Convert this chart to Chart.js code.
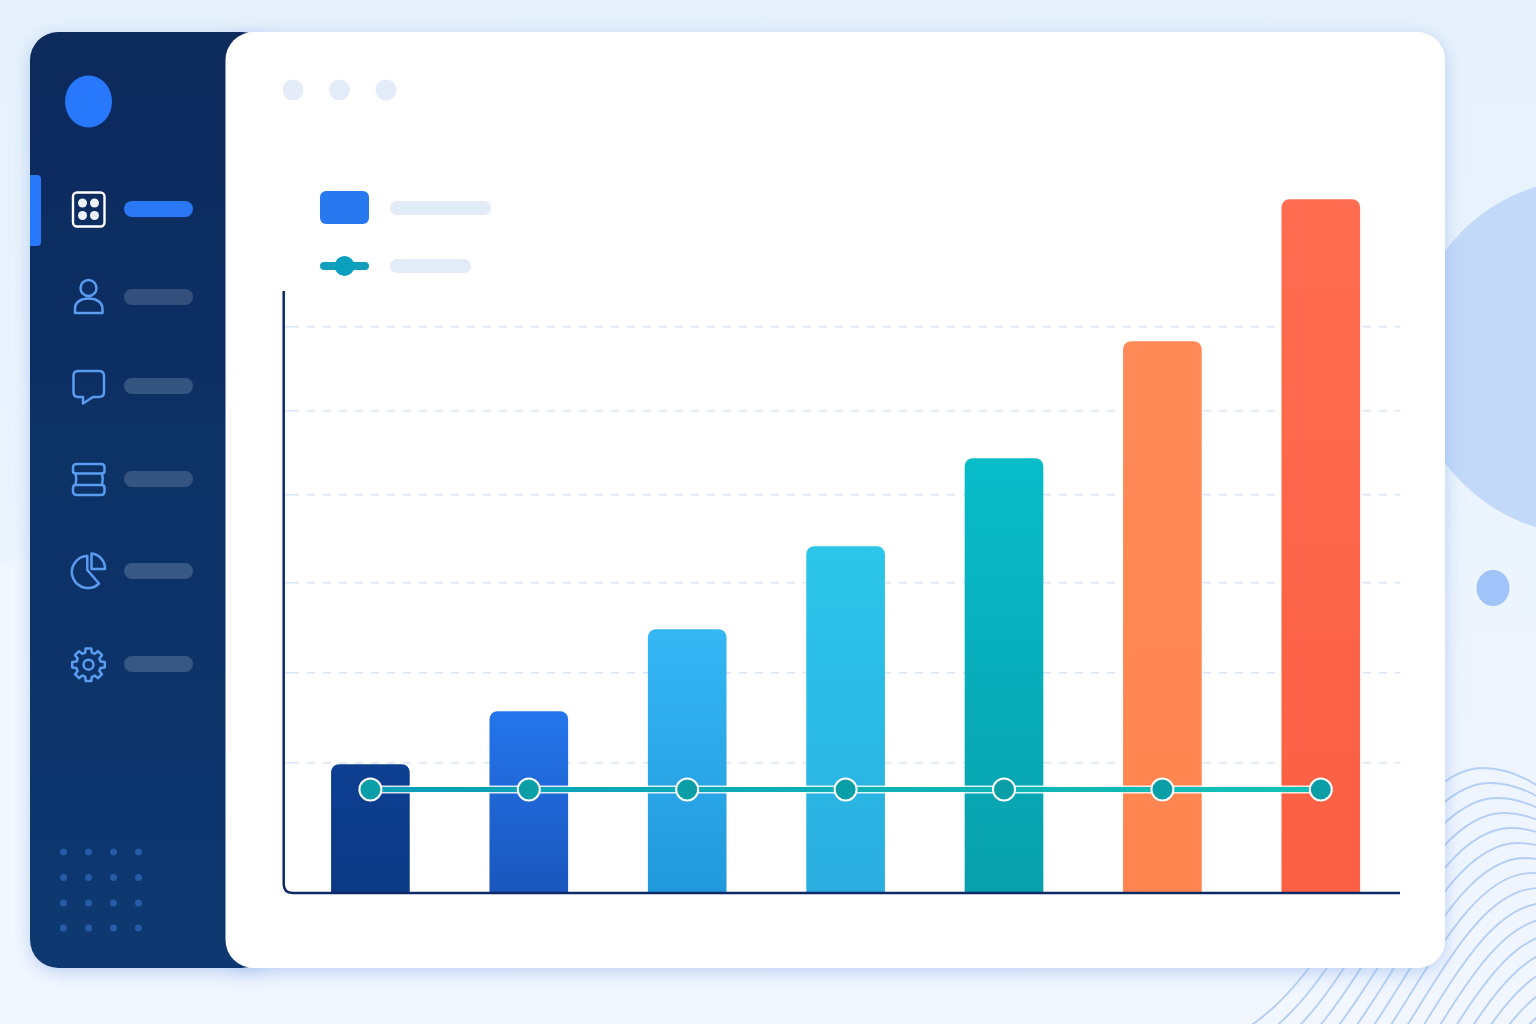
<!DOCTYPE html>
<html>
<head>
<meta charset="utf-8">
<title>Dashboard chart</title>
<script src="https://cdn.jsdelivr.net/npm/chart.js@4/dist/chart.umd.js"></script>
<style>
  html, body { margin: 0; padding: 0; background: #edf4fe; }
  #page { position: relative; width: 1536px; height: 1024px; overflow: hidden; }
  #fondo { position: absolute; left: 0; top: 0; }
  #miCanvas { position: absolute; left: 240px; top: 180px; }
</style>
</head>
<body>
<div id="page">
  <svg id="fondo" width="1536" height="1024" viewBox="0 0 1536 1024" xmlns="http://www.w3.org/2000/svg">
    <defs>
      <linearGradient id="bg" x1="0" y1="0" x2="0" y2="1">
        <stop offset="0" stop-color="#e6f1fc"/>
        <stop offset="0.55" stop-color="#ecf4fe"/>
        <stop offset="1" stop-color="#f1f6ff"/>
      </linearGradient>
      <linearGradient id="side" x1="0" y1="0" x2="0" y2="1">
        <stop offset="0" stop-color="#0b2a5c"/>
        <stop offset="1" stop-color="#0a3871"/>
      </linearGradient>
      <filter id="sombra" x="-10%" y="-10%" width="120%" height="120%">
        <feDropShadow dx="0" dy="4" stdDeviation="9" flood-color="#86abe6" flood-opacity="0.5"/>
      </filter>
    </defs>

    <rect width="1536" height="1024" fill="url(#bg)"/>
    <path d="M0 564 Q22 554 60 566 L60 1024 L0 1024 Z" fill="#f2f7ff"/>

    <!-- decoracion de la derecha -->
    <circle cx="1588" cy="357" r="178" fill="#c2d9f9"/>
    <ellipse cx="1493" cy="588" rx="16.5" ry="18" fill="#a0c4fa"/>
    <g id="ondas" fill="none" stroke="#b4cff5" stroke-width="1.9"></g>

    <!-- sombra de la tarjeta, debajo de la barra lateral -->
    <rect x="225.5" y="32" width="1219.5" height="936" rx="28" fill="#ffffff" filter="url(#sombra)"/>

    <!-- barra lateral -->
    <rect x="30" y="32" width="240" height="936" rx="28" fill="url(#side)" filter="url(#sombra)"/>
    <ellipse cx="88.5" cy="101.5" rx="23.5" ry="26" fill="#2878fb"/>
    <path d="M30 175 H37 Q41 175 41 179 V242 Q41 246 37 246 H30 Z" fill="#2878fb"/>

    <rect x="124" y="201" width="69" height="16" rx="8" fill="#2a78f6"/>
    <rect x="124" y="289" width="69" height="16" rx="8" fill="#344f7c"/>
    <rect x="124" y="378" width="69" height="16" rx="8" fill="#365481"/>
    <rect x="124" y="471" width="69" height="16" rx="8" fill="#365481"/>
    <rect x="124" y="563" width="69" height="16" rx="8" fill="#375785"/>
    <rect x="124" y="656" width="69" height="16" rx="8" fill="#375785"/>

    <!-- iconos -->
    <rect x="73" y="192.5" width="31.5" height="34" rx="4" fill="none" stroke="#ffffff" stroke-width="2.4"/>
    <g fill="#eef2f8">
      <circle cx="82.5" cy="203" r="4.5"/><circle cx="94.5" cy="203" r="4.5"/>
      <circle cx="82.5" cy="215.5" r="4.5"/><circle cx="94.5" cy="215.5" r="4.5"/>
    </g>
    <g fill="none" stroke="#5a9df0" stroke-width="2.5" stroke-linejoin="round" stroke-linecap="round">
      <circle cx="88.5" cy="288" r="8"/>
      <path d="M75 313 V309 C75 302 81 298.5 88.5 298.5 C96 298.5 102.5 302 102.5 309 V313 Z"/>
      <path d="M78 371 H99 Q104 371 104 376 V392 Q104 397 99 397 H93 L83 403.5 V397 H78 Q73.5 397 73.5 392 V376 Q73.5 371 78 371 Z"/>
      <path d="M77 464 H101 Q104.5 464 104.5 467.5 V471 Q104.5 473.5 102 473.5 Q103.5 479 102 485 Q104.5 485 104.5 488 V491 Q104.5 495 101 495 H77 Q73 495 73 491 V488 Q73 485 75.5 485 Q77 479 75.5 473.5 Q73 473.5 73 471 V467.5 Q73 464 77 464 Z"/>
      <path d="M75.5 473.5 H102 M75.5 485 H102"/>
      <path d="M87.3 556 A16 16 0 1 0 99 583.5 L87.3 570 Z"/>
      <path d="M91.5 553.5 A15 15 0 0 1 105 569 H91.5 Z"/>
      <circle cx="88.5" cy="664.7" r="5"/>
      <path id="engrane"/>
    </g>
    <g id="puntos" fill="#265ba8"></g>

    <!-- tarjeta blanca -->
    <rect x="225.5" y="32" width="1219.5" height="936" rx="28" fill="#ffffff"/>
    <circle cx="293" cy="90" r="10.5" fill="#e3ecf8"/>
    <circle cx="339.5" cy="90" r="10.5" fill="#e3ecf8"/>
    <circle cx="386" cy="90" r="10.5" fill="#e3ecf8"/>

    <!-- leyenda sin texto -->
    <rect x="320" y="191" width="49" height="33" rx="6" fill="#2878f0"/>
    <rect x="390" y="201" width="101" height="14" rx="7" fill="#e2ebf8"/>
    <rect x="320" y="262" width="49" height="8" rx="4" fill="#119fbb"/>
    <circle cx="344.5" cy="266" r="10" fill="#0a9fbd"/>
    <rect x="390" y="259" width="81" height="14" rx="7" fill="#e2ebf8"/>
  </svg>
  <canvas id="miCanvas" width="1170" height="720"></canvas>
</div>

<script>
// datos (no hay numeros en el original, unidades aproximadas)
const categorias = ["1", "2", "3", "4", "5", "6", "7"];
const barras = [128, 181, 263, 346, 434, 551, 693];
const linea = [103, 103, 103, 103, 103, 103, 103];
const marcasY = [129.5, 219.5, 309.5, 397.5, 481.5, 565.5];
const maxY = 700;
const topeEjeY = 601.5;

// colores de cada barra, arriba y abajo
const coloresArriba = ["#0d3f92", "#2475ec", "#35b7f4", "#2cc6ea", "#08bcc9", "#ff8a58", "#ff6c50"];
const coloresAbajo = ["#0b3a85", "#1a56bd", "#2299dd", "#2aaee0", "#07a0ac", "#ff844f", "#fb5f44"];

// ondas del fondo
const ondas = document.getElementById("ondas");
for (let i = 0; i < 18; i++) {
  const dx = i * 7;
  const dy = i * 15;
  const p = document.createElementNS("http://www.w3.org/2000/svg", "path");
  p.setAttribute("d",
    `M${1240 + dx} ${1032 + dy} C${1345 + dx} ${975 + dy} ${1395 + dx} ${768 + dy} ${1483 + dx} ${768 + dy} ` +
    `C${1520 + dx} ${768 + dy} ${1545 + dx} ${790 + dy} ${1600 + dx} ${830 + dy}`);
  ondas.appendChild(p);
}

// puntitos de la barra lateral
const puntos = document.getElementById("puntos");
[852, 877.5, 903, 928].forEach((y) => {
  [63.5, 88.5, 113.5, 138.5].forEach((x) => {
    const c = document.createElementNS("http://www.w3.org/2000/svg", "circle");
    c.setAttribute("cx", x);
    c.setAttribute("cy", y);
    c.setAttribute("r", 3.5);
    puntos.appendChild(c);
  });
});

// engrane con 8 dientes
let d = "";
for (let i = 0; i < 8; i++) {
  const a = (i * Math.PI) / 4 - Math.PI / 2;
  [[-0.17, 16.5], [0.17, 16.5], [0.27, 12.5], [0.52, 12.5]].forEach(([da, r], k) => {
    const x = 88.5 + r * Math.cos(a + da);
    const y = 664.7 + r * Math.sin(a + da);
    d += (i === 0 && k === 0 ? "M" : "L") + x.toFixed(1) + " " + y.toFixed(1) + " ";
  });
}
document.getElementById("engrane").setAttribute("d", d + "Z");

// eje en L con la esquina redondeada
const ejeEnL = {
  id: "ejeEnL",
  afterDatasetsDraw(chart) {
    const { ctx, scales, chartArea } = chart;
    const x = chartArea.left - 7.5;
    const yTop = scales.y.getPixelForValue(topeEjeY);
    const yBase = scales.y.getPixelForValue(0) + 0.5;
    ctx.save();
    ctx.strokeStyle = "#0d2a66";
    ctx.lineWidth = 2.5;
    ctx.beginPath();
    ctx.moveTo(x, yTop);
    ctx.lineTo(x, yBase - 9);
    ctx.quadraticCurveTo(x, yBase, x + 9, yBase);
    ctx.lineTo(chartArea.right, yBase);
    ctx.stroke();
    ctx.restore();
  },
};

function degradadoBarra(context) {
  const { chart, dataIndex, raw } = context;
  if (!chart.chartArea || raw === undefined) return coloresArriba[dataIndex];
  const y = chart.scales.y;
  const g = chart.ctx.createLinearGradient(0, y.getPixelForValue(raw), 0, y.getPixelForValue(0));
  g.addColorStop(0, coloresArriba[dataIndex]);
  g.addColorStop(1, coloresAbajo[dataIndex]);
  return g;
}

function degradadoLinea(context) {
  const { chart } = context;
  if (!chart.chartArea) return "#0a9bba";
  const g = chart.ctx.createLinearGradient(chart.chartArea.left, 0, chart.chartArea.right, 0);
  g.addColorStop(0, "#0a9bba");
  g.addColorStop(1, "#14c4b4");
  return g;
}

const ctx = document.getElementById("miCanvas").getContext("2d");

new Chart(ctx, {
  type: "bar",
  data: {
    labels: categorias,
    datasets: [
      {
        type: "line",
        data: linea,
        order: 1,
        borderColor: degradadoLinea,
        borderWidth: 5,
        pointRadius: 11,
        pointBorderWidth: 2,
        pointBorderColor: "#ffffff",
        pointBackgroundColor: "#0a9ea6",
        clip: false,
      },
      {
        // borde blanco de la linea sobre las barras
        type: "line",
        data: linea,
        order: 2,
        borderColor: "rgba(255,255,255,0.85)",
        borderWidth: 8,
        pointRadius: 0,
      },
      {
        data: barras,
        order: 3,
        backgroundColor: degradadoBarra,
        barThickness: 78,
        borderRadius: { topLeft: 8, topRight: 8, bottomLeft: 0, bottomRight: 0 },
        borderSkipped: false,
      },
    ],
  },
  options: {
    responsive: false,
    animation: false,
    // sin autoPadding: los puntos de la linea encogen el area del grafico
    layout: { autoPadding: false, padding: { top: 12.5, bottom: 7.5, right: 10, left: 0 } },
    plugins: { legend: { display: false }, tooltip: { enabled: false } },
    scales: {
      x: { display: false },
      y: {
        min: 0,
        max: maxY,
        afterBuildTicks: (scale) => {
          scale.ticks = marcasY.map((v) => ({ value: v }));
        },
        afterFit: (scale) => {
          scale.width = 51.2;
        },
        ticks: { display: false },
        border: { display: false, dash: [8, 8] },
        grid: {
          color: "#d9e6fa",
          lineWidth: 1.5,
          tickLength: 6,
          tickColor: "#d9e6fa",
          tickWidth: 1.5,
          tickBorderDash: [8, 8],
        },
      },
    },
  },
  plugins: [ejeEnL],
});
</script>
</body>
</html>
